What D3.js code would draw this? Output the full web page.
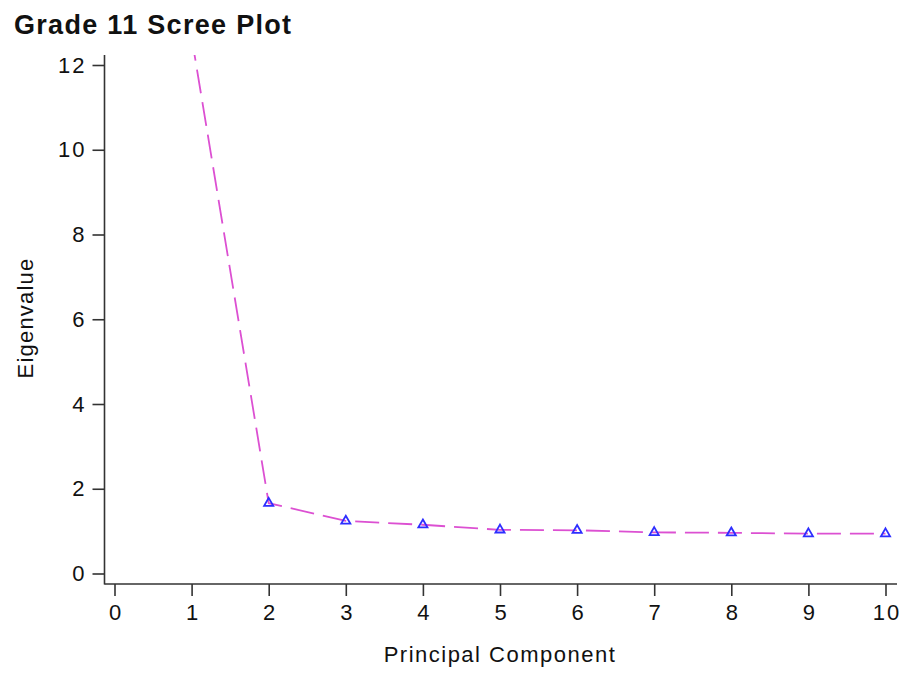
<!DOCTYPE html>
<html>
<head>
<meta charset="utf-8">
<script src="https://cdn.jsdelivr.net/npm/d3@7"></script>
<style>
  html, body { margin: 0; padding: 0; background: #fff; }
  svg { display: block; }
  text { font-family: "Liberation Sans", Arial, sans-serif; fill: #111; }
</style>
</head>
<body>
<svg id="chart" width="901" height="678"></svg>
<script>
// Scree plot data: eigenvalue for each principal component
const components = [1, 2, 3, 4, 5, 6, 7, 8, 9, 10];
const eigenvalues = [12.66, 1.66, 1.24, 1.15, 1.03, 1.02, 0.97, 0.96, 0.94, 0.94];
const xTicks = [0, 1, 2, 3, 4, 5, 6, 7, 8, 9, 10];
const yTicks = [0, 2, 4, 6, 8, 10, 12];

const svg = d3.select("#chart");

// Plot frame
const frame = { left: 104.5, right: 897, top: 55, bottom: 584 };

const x = d3.scaleLinear().domain([0, 10]).range([114.5, 885.5]);
const y = d3.scaleLinear().domain([0, 12]).range([573.5, 65]);

// Title
svg.append("text")
  .attr("x", 14).attr("y", 34)
  .attr("font-size", 27).attr("font-weight", "bold")
  .style("letter-spacing", "1.3px")
  .text("Grade 11 Scree Plot");

// Y axis
const yAxis = d3.axisLeft(y).tickValues(yTicks).tickSize(12).tickPadding(6);
const gy = svg.append("g").attr("transform", `translate(${frame.left},0)`).call(yAxis);
gy.select(".domain").remove();
gy.append("line").attr("x1", 0).attr("x2", 0).attr("y1", frame.top).attr("y2", frame.bottom + 0.5)
  .attr("stroke", "#333").attr("stroke-width", 1.6);
gy.selectAll(".tick line").attr("stroke", "#333").attr("stroke-width", 1.6);
gy.selectAll(".tick text").attr("font-size", 22).attr("fill", "#111")
  .style("letter-spacing", "2px")
  .attr("font-family", "'Liberation Sans', Arial, sans-serif");

// X axis
const xAxis = d3.axisBottom(x).tickValues(xTicks).tickSize(12).tickPadding(8);
const gx = svg.append("g").attr("transform", `translate(0,${frame.bottom})`).call(xAxis);
gx.select(".domain").remove();
gx.append("line").attr("x1", frame.left).attr("x2", frame.right).attr("y1", 0).attr("y2", 0)
  .attr("stroke", "#333").attr("stroke-width", 1.6);
gx.selectAll(".tick line").attr("stroke", "#333").attr("stroke-width", 1.6);
gx.selectAll(".tick text").attr("font-size", 22).attr("fill", "#111")
  .style("letter-spacing", "2px")
  .attr("dx", 1)
  .attr("font-family", "'Liberation Sans', Arial, sans-serif");

// Axis titles
svg.append("text")
  .attr("x", 500).attr("y", 662)
  .attr("text-anchor", "middle").attr("font-size", 22)
  .style("letter-spacing", "1.5px")
  .text("Principal Component");

svg.append("text")
  .attr("transform", "translate(33,318) rotate(-90)")
  .attr("text-anchor", "middle").attr("font-size", 22)
  .style("letter-spacing", "1.2px")
  .text("Eigenvalue");

// Clip the series to the plot frame
svg.append("clipPath").attr("id", "plot-clip")
  .append("rect").attr("x", frame.left).attr("y", frame.top)
  .attr("width", frame.right - frame.left).attr("height", frame.bottom - frame.top);

const plot = svg.append("g").attr("clip-path", "url(#plot-clip)");
const pts = components.map((c, i) => ({ c, v: eigenvalues[i] }));

const line = d3.line().x(d => x(d.c)).y(d => y(d.v));
plot.append("path")
  .datum(pts)
  .attr("d", line)
  .attr("fill", "none")
  .attr("stroke", "#dc50d2")
  .attr("stroke-width", 1.8)
  .attr("stroke-dasharray", "24 9");

// Open triangle markers
const tri = d3.symbol().type(d3.symbolTriangle).size(36);
plot.selectAll(".marker")
  .data(pts)
  .join("path")
  .attr("class", "marker")
  .attr("transform", d => `translate(${x(d.c)},${y(d.v)})`)
  .attr("d", tri)
  .attr("fill", "none")
  .attr("stroke", "#2e2eff")
  .attr("stroke-width", 1.8);
</script>
</body>
</html>
